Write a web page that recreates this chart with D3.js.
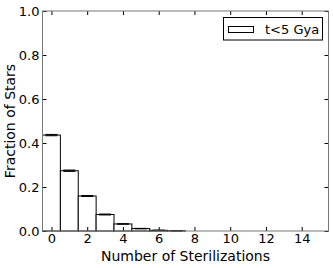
<!DOCTYPE html>
<html>
<head>
<meta charset="utf-8">
<script src="https://cdn.jsdelivr.net/npm/d3@7"></script>
<style>
  body { margin: 0; background: #fff; }
  text { font-family: "DejaVu Sans", sans-serif; fill: #000; }
</style>
</head>
<body>
<div id="chart"></div>
<script>
// Number of sterilizations (bins) and the fraction of stars in each
const sterilizations = [0, 1, 2, 3, 4, 5, 6, 7, 8, 9, 10, 11, 12, 13, 14, 15];
const fractions = [0.436, 0.274, 0.159, 0.075, 0.032, 0.011, 0.003, 0.001, 0, 0, 0, 0, 0, 0, 0, 0];
const errors = [0.003, 0.003, 0.002, 0.002, 0.001, 0.001, 0.001, 0, 0, 0, 0, 0, 0, 0, 0, 0];
const xTicks = [0, 2, 4, 6, 8, 10, 12, 14];
const yTicks = [0.0, 0.2, 0.4, 0.6, 0.8, 1.0];
const legendLabel = "t<5 Gya";

const width = 333, height = 268;
const margin = {top: 11, right: 4.5, bottom: 37, left: 42.5};

const svg = d3.select("#chart")
  .append("svg")
    .attr("width", width)
    .attr("height", height);

const x = d3.scaleLinear()
    .domain([-0.5, 15.5])
    .range([margin.left, width - margin.right]);

const y = d3.scaleLinear()
    .domain([0, 1])
    .range([height - margin.bottom, margin.top]);

const bins = sterilizations.map((s, i) => ({s: s, v: fractions[i], e: errors[i]})).filter(d => d.v > 0);

// Bars (histogram steps, one unit wide)
svg.append("g")
  .selectAll("rect")
  .data(bins)
  .join("rect")
    .attr("x", d => x(d.s - 0.5))
    .attr("y", d => y(d.v))
    .attr("width", d => x(d.s + 0.5) - x(d.s - 0.5))
    .attr("height", d => y(0) - y(d.v))
    .attr("fill", "#fff")
    .attr("stroke", "#000")
    .attr("stroke-width", 1);

// Error bars with caps
const err = svg.append("g")
  .selectAll("g")
  .data(bins)
  .join("g");
err.append("line")
    .attr("x1", d => x(d.s)).attr("x2", d => x(d.s))
    .attr("y1", d => y(d.v + d.e)).attr("y2", d => y(d.v - d.e))
    .attr("stroke", "#000");
err.append("line")
    .attr("x1", d => x(d.s) - 6).attr("x2", d => x(d.s) + 6)
    .attr("y1", d => y(d.v + d.e)).attr("y2", d => y(d.v + d.e))
    .attr("stroke", "#000");
err.append("line")
    .attr("x1", d => x(d.s) - 6).attr("x2", d => x(d.s) + 6)
    .attr("y1", d => y(d.v - d.e)).attr("y2", d => y(d.v - d.e))
    .attr("stroke", "#000");

// Axes: inward ticks on all four sides
const tickLen = 4;
svg.append("g")
    .attr("transform", `translate(0,${y(0)})`)
    .call(d3.axisBottom(x).tickValues(xTicks).tickSize(-tickLen).tickPadding(3).tickFormat(d3.format("d")))
    .call(g => g.select(".domain").remove())
    .call(g => g.selectAll("text").style("font-size", "13px"));
svg.append("g")
    .attr("transform", `translate(0,${y(1)})`)
    .call(d3.axisTop(x).tickValues(xTicks).tickSize(-tickLen).tickFormat(""))
    .call(g => g.select(".domain").remove());
svg.append("g")
    .attr("transform", `translate(${x(-0.5)},0)`)
    .call(d3.axisLeft(y).tickValues(yTicks).tickSize(-tickLen).tickPadding(3).tickFormat(d3.format(".1f")))
    .call(g => g.select(".domain").remove())
    .call(g => g.selectAll("text").style("font-size", "13px"));
svg.append("g")
    .attr("transform", `translate(${x(15.5)},0)`)
    .call(d3.axisRight(y).tickValues(yTicks).tickSize(-tickLen).tickFormat(""))
    .call(g => g.select(".domain").remove());

// Frame
svg.append("rect")
    .attr("x", x(-0.5))
    .attr("y", y(1))
    .attr("width", x(15.5) - x(-0.5))
    .attr("height", y(0) - y(1))
    .attr("fill", "none")
    .attr("stroke", "#777")
    .attr("stroke-width", 1);

// Axis labels
svg.append("text")
    .attr("x", (x(-0.5) + x(15.5)) / 2)
    .attr("y", 261)
    .attr("text-anchor", "middle")
    .style("font-size", "14px")
    .text("Number of Sterilizations");
svg.append("text")
    .attr("transform", `translate(15,${(y(0) + y(1)) / 2}) rotate(-90)`)
    .attr("text-anchor", "middle")
    .style("font-size", "14px")
    .text("Fraction of Stars");

// Legend
const legend = svg.append("g");
legend.append("rect")
    .attr("x", 223.5).attr("y", 17.5)
    .attr("width", 99).attr("height", 22.5)
    .attr("fill", "#fff")
    .attr("stroke", "#000");
legend.append("rect")
    .attr("x", 228.5).attr("y", 26.5)
    .attr("width", 25).attr("height", 6)
    .attr("fill", "#fff")
    .attr("stroke", "#000");
legend.append("text")
    .attr("x", 265).attr("y", 34)
    .style("font-size", "13px")
    .text(legendLabel);
</script>
</body>
</html>
